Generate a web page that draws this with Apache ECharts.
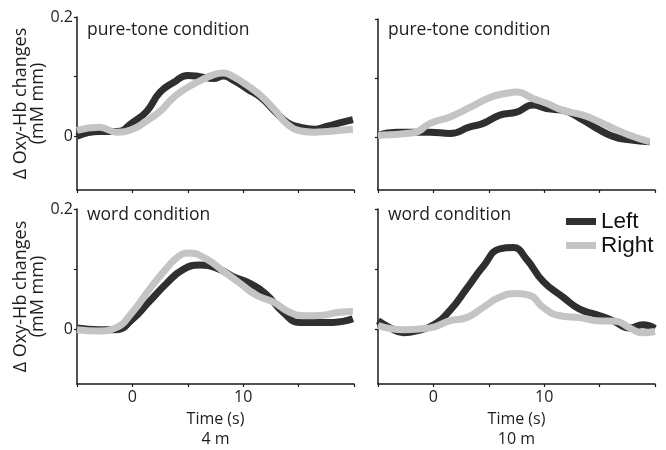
<!DOCTYPE html>
<html>
<head>
<meta charset="utf-8">
<script src="https://cdn.jsdelivr.net/npm/echarts@6/dist/echarts.min.js"></script>
<style>
  html, body { margin: 0; padding: 0; background: #fff; }
  #main { width: 666px; height: 450px; }
</style>
</head>
<body>
<div id="main"></div>
<script>
// [time (s), Δ Oxy-Hb]
const tlLeft = [[-5, 0], [-3, 0.008], [-1.4, 0.008], [0, 0.023], [1.3, 0.042], [2.5, 0.074], [3.7, 0.09], [5, 0.102],
  [6.1, 0.1], [7.3, 0.097], [8.2, 0.101], [9.1, 0.094], [10.4, 0.079], [11.6, 0.065], [12.8, 0.043], [14, 0.023],
  [15.2, 0.015], [16.4, 0.012], [17.6, 0.017], [18.8, 0.023], [19.9, 0.028]]
const tlRight = [[-5, 0.01], [-3, 0.015], [-1.4, 0.007], [0, 0.012], [1.3, 0.026], [2.5, 0.042], [3.7, 0.065], [5, 0.082],
  [6.1, 0.093], [7.3, 0.103], [8.2, 0.106], [9.1, 0.1], [10.4, 0.085], [11.6, 0.068], [12.8, 0.045], [14, 0.02],
  [15.2, 0.009], [16.4, 0.007], [17.6, 0.008], [18.8, 0.01], [19.9, 0.012]]
const trLeft = [[-5, 0.003], [-3.3, 0.008], [-1.8, 0.008], [-0.3, 0.008], [1.5, 0.006], [3.3, 0.017], [4.5, 0.023],
  [6, 0.037], [7.5, 0.042], [9, 0.054], [10.2, 0.048], [11.7, 0.045], [13.2, 0.032], [14.7, 0.015], [16.2, 0.001],
  [17.7, -0.005], [19.5, -0.008]]
const trRight = [[-5, 0.003], [-1.8, 0.007], [-0.3, 0.023], [1.5, 0.034], [3.3, 0.05], [5.1, 0.067], [6.6, 0.074],
  [7.5, 0.076], [9, 0.065], [10.2, 0.057], [11.7, 0.045], [13.5, 0.037], [14.7, 0.028], [16.2, 0.015], [17.7, 0.003],
  [19.5, -0.008]]
const blLeft = [[-5, 0.003], [-3, 0], [-1.5, 0], [0, 0.017], [1.5, 0.046], [3.1, 0.077], [4.6, 0.1], [6.1, 0.107],
  [7.6, 0.102], [9.1, 0.088], [10.6, 0.077], [12.1, 0.058], [13.6, 0.029], [15.1, 0.012], [16.6, 0.012], [18.1, 0.012],
  [19.9, 0.018]]
const blRight = [[-5, 0], [-3, -0.002], [-1.5, 0.003], [0, 0.029], [1.5, 0.066], [3.1, 0.102], [4.2, 0.122], [5.1, 0.127],
  [6.7, 0.117], [8.2, 0.097], [9.7, 0.077], [11.2, 0.057], [12.7, 0.046], [14.2, 0.029], [15.7, 0.023], [17.2, 0.024],
  [18.7, 0.029], [19.9, 0.03]]
const brLeft = [[-5, 0.015], [-3.9, 0.003], [-2.7, -0.005], [-1.5, -0.002], [0, 0.008], [1.5, 0.032], [3, 0.068],
  [4.5, 0.105], [6, 0.134], [7.2, 0.136], [8.4, 0.117], [9.9, 0.08], [11.7, 0.054], [13.2, 0.034], [14.7, 0.025],
  [16.2, 0.015], [17.7, 0.003], [18.9, 0.008], [20, 0.002]]
const brRight = [[-5, 0.007], [-2.7, 0], [-0.3, 0.003], [1.5, 0.015], [3, 0.02], [4.5, 0.037], [6, 0.054], [7.5, 0.06],
  [8.7, 0.057], [9.9, 0.037], [11.4, 0.023], [13.2, 0.02], [14.7, 0.015], [16.5, 0.014], [17.7, 0.003], [18.9, -0.005],
  [20, -0.003]]

const panelTitles = ['pure-tone condition', 'pure-tone condition', 'word condition', 'word condition']
const xLabelValues = [0, 10]
const yLabelValues = [0, 0.2]
const yTickValues = [0, 0.1, 0.2]
const distances = ['4 m', '10 m']

const FONT = '"Open Sans", "Noto Sans", sans-serif'
const DARK = '#2f2f2f'
const LIGHT = '#c4c4c4'
const AXIS = '#1a1a1a'
const TEXT = '#1e1e1e'

const grids = [
  { left: 77, top: 17, width: 277, height: 173 },
  { left: 378, top: 19, width: 277, height: 171 },
  { left: 77, top: 209, width: 277, height: 175 },
  { left: 378, top: 209, width: 277, height: 175 }
].map((g) => ({ ...g, outerBoundsMode: 'none', containLabel: false }))

const xAxis = grids.map((g, i) => ({
  gridIndex: i,
  type: 'value',
  min: -5,
  max: 20,
  interval: 5,
  name: i >= 2 ? 'Time (s)\n' + distances[i - 2] : '',
  nameLocation: 'middle',
  nameGap: 25,
  nameTextStyle: { fontFamily: FONT, fontSize: 16, color: TEXT, lineHeight: 20, verticalAlign: 'top' },
  axisLine: { onZero: false, lineStyle: { color: AXIS, width: 1.5 } },
  axisTick: { length: 3, lineStyle: { color: AXIS, width: 1.2 } },
  axisLabel: { show: i >= 2, customValues: xLabelValues, fontFamily: FONT, fontSize: 16, color: TEXT, margin: 5 },
  splitLine: { show: false }
}))

const yAxis = grids.map((g, i) => ({
  gridIndex: i,
  type: 'value',
  min: -0.09,
  max: 0.2,
  name: i % 2 === 0 ? 'Δ Oxy-Hb changes\n(mM mm)' : '',
  nameLocation: 'middle',
  nameRotate: 90,
  nameGap: 28,
  nameTextStyle: { fontFamily: FONT, fontSize: 18, color: TEXT, lineHeight: 17 },
  axisLine: { show: true, onZero: false, lineStyle: { color: AXIS, width: 1.5 } },
  axisTick: { show: true, length: 3, customValues: yTickValues, lineStyle: { color: AXIS, width: 1.2 } },
  axisLabel: { show: i % 2 === 0, customValues: yLabelValues, fontFamily: FONT, fontSize: 16, color: TEXT, margin: 4 },
  splitLine: { show: false }
}))

const panels = [[tlLeft, tlRight], [trLeft, trRight], [blLeft, blRight], [brLeft, brRight]]
const series = []
panels.forEach((pair, i) => {
  series.push({
    name: 'Left', type: 'line', xAxisIndex: i, yAxisIndex: i, data: pair[0], smooth: 0.5,
    showSymbol: false, symbol: 'none', color: DARK, lineStyle: { color: DARK, width: 7 }
  })
  series.push({
    name: 'Right', type: 'line', xAxisIndex: i, yAxisIndex: i, data: pair[1], smooth: 0.5,
    showSymbol: false, symbol: 'none', color: LIGHT, lineStyle: { color: LIGHT, width: 7 }
  })
})

const titles = panelTitles.map((t, i) => ({
  text: t,
  left: grids[i].left + 10,
  top: i < 2 ? 21 : 206,
  padding: 0,
  textStyle: { fontFamily: FONT, fontSize: 17.5, fontWeight: 'normal', color: TEXT }
}))

const chart = echarts.init(document.getElementById('main'), null, { renderer: 'canvas' })
chart.setOption({
  animation: false,
  backgroundColor: '#fff',
  title: titles,
  grid: grids,
  xAxis: xAxis,
  yAxis: yAxis,
  legend: {
    data: ['Left', 'Right'],
    orient: 'vertical',
    left: 566,
    top: 210,
    padding: 0,
    itemGap: 1,
    icon: 'rect',
    itemWidth: 30,
    itemHeight: 7,
    itemStyle: { borderWidth: 0 },
    textStyle: { fontFamily: '"Liberation Sans", Arial, sans-serif', fontSize: 22.5, color: '#111', lineHeight: 22 }
  },
  series: series
})
</script>
</body>
</html>
